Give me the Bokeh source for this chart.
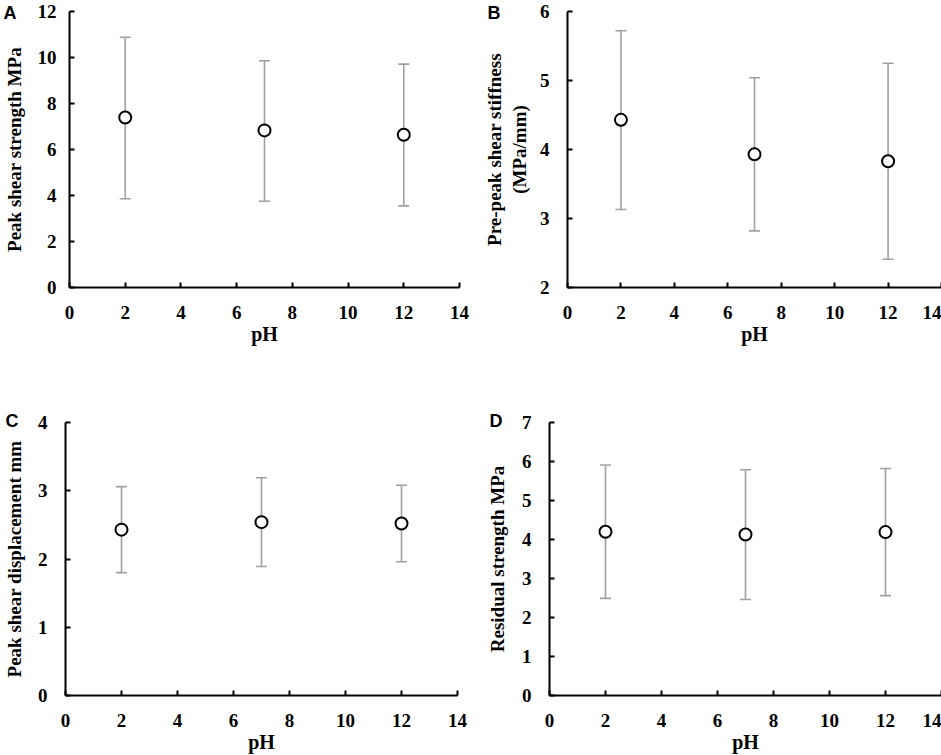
from bokeh.plotting import figure
from bokeh.models import ColumnDataSource, Whisker, TeeHead, Label, Range1d, FixedTicker
from bokeh.layouts import column, row
from bokeh.embed import file_html
from bokeh.resources import INLINE

# ---- data ----
ph = [2, 7, 12]

strength_mean = [7.39, 6.83, 6.64]
strength_upper = [10.88, 9.86, 9.71]
strength_lower = [3.86, 3.75, 3.55]

stiffness_mean = [4.43, 3.93, 3.83]
stiffness_upper = [5.72, 5.04, 5.25]
stiffness_lower = [3.13, 2.82, 2.41]

disp_mean = [2.43, 2.54, 2.52]
disp_upper = [3.06, 3.19, 3.08]
disp_lower = [1.80, 1.89, 1.96]

resid_mean = [4.20, 4.13, 4.19]
resid_upper = [5.91, 5.79, 5.82]
resid_lower = [2.49, 2.46, 2.56]

x_ticks = [0, 2, 4, 6, 8, 10, 12, 14]

SERIF = "Liberation Serif"
SANS = "Liberation Sans"


def panel(letter, letter_side, lx_off, ly_off, ylabel, mean, upper, lower, yr, yticks,
          width, height, bl, br, bt, bb, ystand, ylab_stand):
    p = figure(width=width, height=height, output_backend="svg",
               toolbar_location=None, x_range=Range1d(0, 14),
               y_range=Range1d(*yr), min_border_left=bl, min_border_right=br,
               min_border_top=bt, min_border_bottom=bb)
    p.outline_line_color = None
    p.xgrid.visible = False
    p.ygrid.visible = False
    p.background_fill_color = "white"

    src = ColumnDataSource(dict(x=ph, y=mean, upper=upper, lower=lower))
    w = Whisker(source=src, base="x", upper="upper", lower="lower",
                line_color="#a0a0a0", line_width=1.6,
                upper_head=TeeHead(size=11, line_color="#a0a0a0", line_width=1.6),
                lower_head=TeeHead(size=11, line_color="#a0a0a0", line_width=1.6))
    p.add_layout(w)
    p.scatter("x", "y", source=src, marker="circle", size=12,
              fill_color="white", line_color="black", line_width=2)

    for ax in (p.xaxis[0], p.yaxis[0]):
        ax.axis_line_width = 2
        ax.axis_line_color = "black"
        ax.major_tick_in = 5
        ax.major_tick_out = 0
        ax.major_tick_line_width = 2
        ax.minor_tick_line_color = None
        ax.major_label_text_font = SERIF
        ax.major_label_text_font_style = "bold"
        ax.major_label_text_font_size = "19px"
        ax.major_label_text_color = "black"
        ax.axis_label_text_font = SERIF
        ax.axis_label_text_font_style = "bold"
        ax.axis_label_text_color = "black"

    p.xaxis.ticker = FixedTicker(ticks=x_ticks)
    p.xaxis.axis_label = "pH"
    p.xaxis.axis_label_text_font_size = "20px"
    p.xaxis.major_label_standoff = 18
    p.xaxis.axis_label_standoff = 1

    p.yaxis.ticker = FixedTicker(ticks=yticks)
    p.yaxis.axis_label = ylabel
    p.yaxis.axis_label_text_font_size = "19px"
    p.yaxis.major_label_standoff = ystand
    p.yaxis.axis_label_standoff = ylab_stand

    # panel letter, anchored to the top-left corner of the plot frame
    p.add_layout(Label(x=0, y=yr[1], x_units="data", y_units="data",
                       x_offset=lx_off, y_offset=ly_off,
                       text=letter, text_font=SANS, text_font_style="bold",
                       text_font_size="18px", text_color="black",
                       text_baseline="top", text_align="left"), letter_side)
    return p


# top row: frames 11..287 ; bottom row: frames 422..698
pA = panel("A", "below", -66, 9, "Peak shear strength MPa", strength_mean, strength_upper,
           strength_lower, (0, 12), [0, 2, 4, 6, 8, 10, 12],
           470, 408, 67, 11, 11, 121, 13, 10)
pB = panel("B", "below", -80, 9, "Pre-peak shear stiffness\n(MPa/mm)", stiffness_mean,
           stiffness_upper, stiffness_lower, (2, 6), [2, 3, 4, 5, 6],
           471, 408, 97, 0, 11, 121, 18, 7)
pC = panel("C", "right", -60, 12, "Peak shear displacement mm", disp_mean, disp_upper,
           disp_lower, (0, 4), [0, 1, 2, 3, 4],
           470, 347, 62, 11, 14, 57, 18, 10)
pD = panel("D", "left", -60, 12, "Residual strength MPa", resid_mean, resid_upper,
           resid_lower, (0, 7), [0, 1, 2, 3, 4, 5, 6, 7],
           471, 347, 77, 0, 14, 57, 18, 11)

layout = column(row(pA, pB), row(pC, pD))
open("out.html", "w").write(file_html(layout, INLINE))
